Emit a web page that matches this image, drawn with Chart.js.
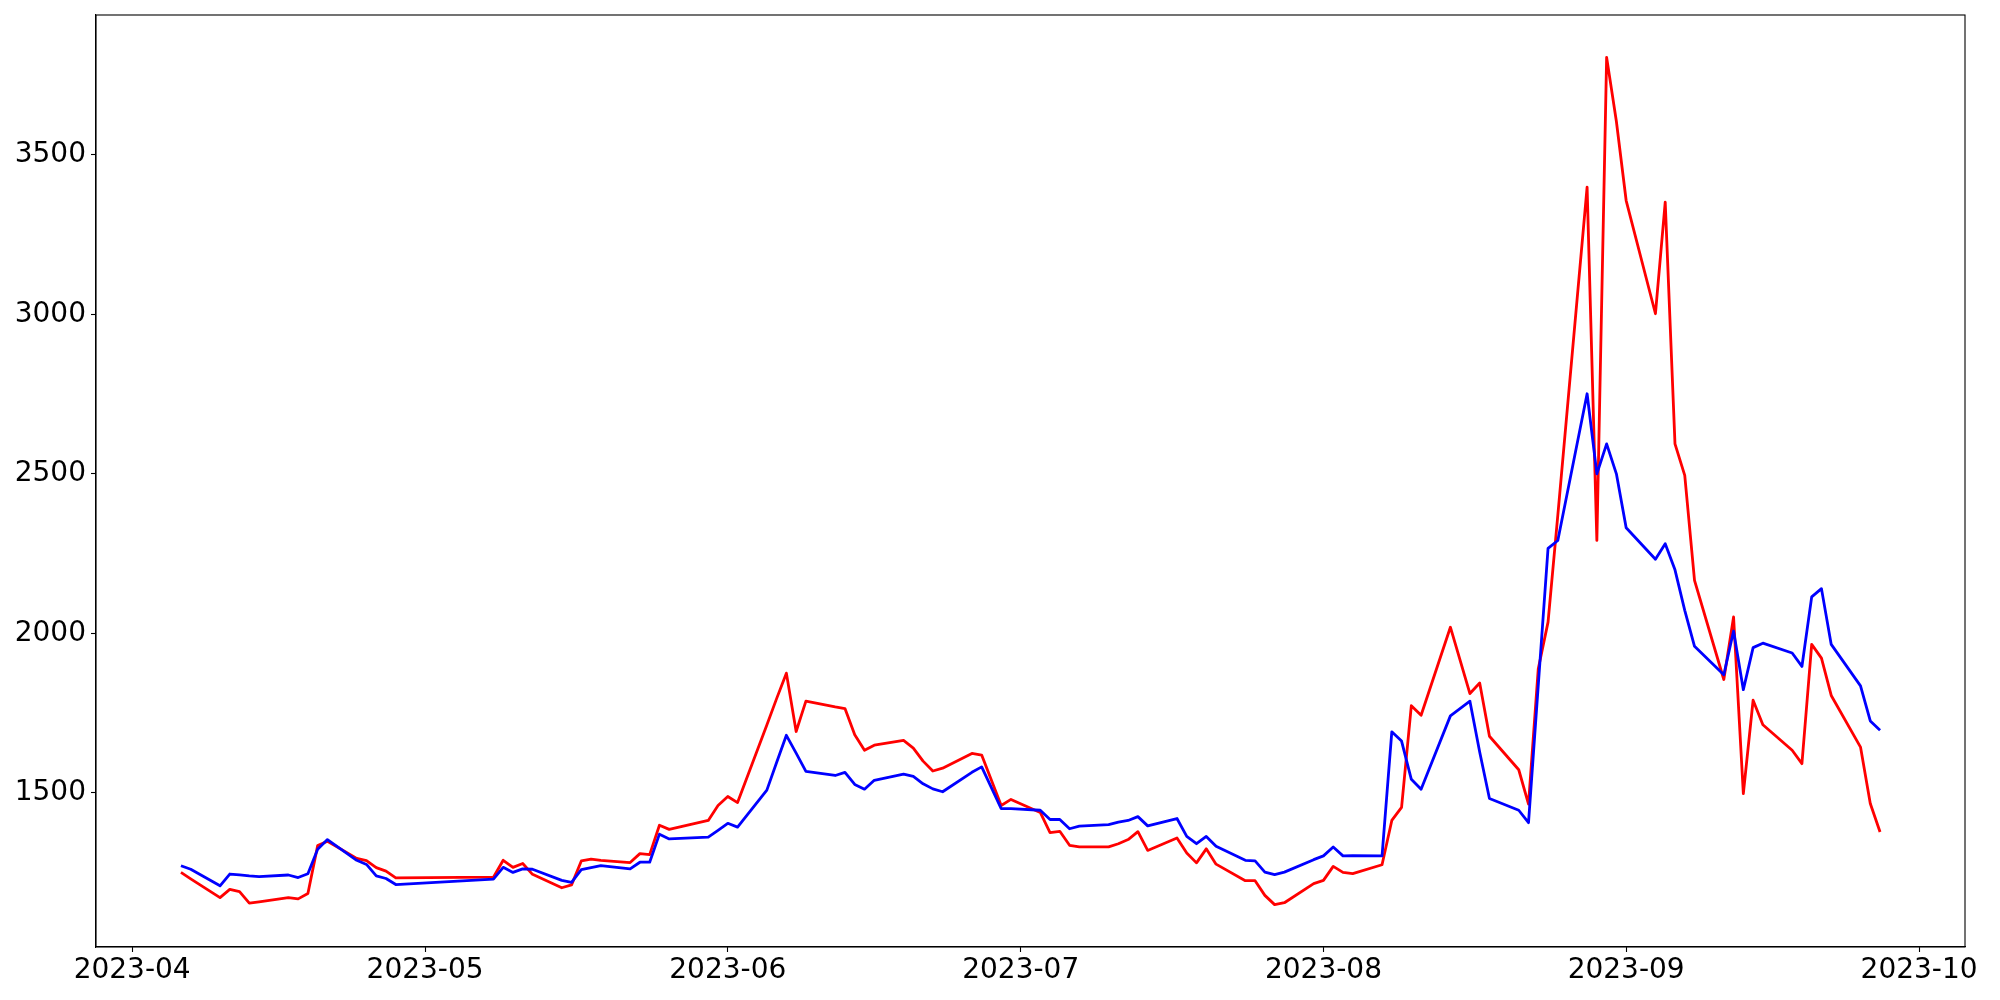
<!DOCTYPE html>
<html>
<head>
<meta charset="utf-8">
<script src="https://cdn.jsdelivr.net/npm/chart.js@4.4.0/dist/chart.umd.min.js"></script>
<style>
  html, body { margin: 0; padding: 0; background: #fff; }
  canvas { display: block; }
</style>
</head>
<body>
<canvas id="canvas" width="2000" height="1000"></canvas>
<script>
const dates = [
  '2023-04-06', '2023-04-07', '2023-04-10', '2023-04-11', '2023-04-12', '2023-04-13', '2023-04-14',
  '2023-04-17', '2023-04-18', '2023-04-19', '2023-04-20', '2023-04-21', '2023-04-24', '2023-04-25',
  '2023-04-26', '2023-04-27', '2023-04-28', '2023-05-08', '2023-05-09', '2023-05-10', '2023-05-11',
  '2023-05-12', '2023-05-15', '2023-05-16', '2023-05-17', '2023-05-18', '2023-05-19', '2023-05-22',
  '2023-05-23', '2023-05-24', '2023-05-25', '2023-05-26', '2023-05-30', '2023-05-31', '2023-06-01',
  '2023-06-02', '2023-06-05', '2023-06-06', '2023-06-07', '2023-06-08', '2023-06-09', '2023-06-12',
  '2023-06-13', '2023-06-14', '2023-06-15', '2023-06-16', '2023-06-19', '2023-06-20', '2023-06-21',
  '2023-06-22', '2023-06-23', '2023-06-26', '2023-06-27', '2023-06-29', '2023-06-30', '2023-07-03',
  '2023-07-04', '2023-07-05', '2023-07-06', '2023-07-07', '2023-07-10', '2023-07-11', '2023-07-12',
  '2023-07-13', '2023-07-14', '2023-07-17', '2023-07-18', '2023-07-19', '2023-07-20', '2023-07-21',
  '2023-07-24', '2023-07-25', '2023-07-26', '2023-07-27', '2023-07-28', '2023-07-31', '2023-08-01',
  '2023-08-02', '2023-08-03', '2023-08-04', '2023-08-07', '2023-08-08', '2023-08-09', '2023-08-10',
  '2023-08-11', '2023-08-14', '2023-08-16', '2023-08-17', '2023-08-18', '2023-08-21', '2023-08-22',
  '2023-08-23', '2023-08-24', '2023-08-25', '2023-08-28', '2023-08-29', '2023-08-30', '2023-08-31',
  '2023-09-01', '2023-09-04', '2023-09-05', '2023-09-06', '2023-09-07', '2023-09-08', '2023-09-11',
  '2023-09-12', '2023-09-13', '2023-09-14', '2023-09-15', '2023-09-18', '2023-09-19', '2023-09-20',
  '2023-09-21', '2023-09-22', '2023-09-25', '2023-09-26', '2023-09-27'
]

const redValues = [
  1250, 1230, 1171, 1197, 1190, 1154, 1158,
  1171, 1167, 1184, 1334, 1348, 1294, 1287,
  1265, 1254, 1233, 1235, 1288, 1266, 1278,
  1244, 1202, 1211, 1286, 1292, 1288, 1281,
  1309, 1306, 1398, 1385, 1413, 1460, 1488,
  1469, 1712, 1795, 1875, 1692, 1787, 1769,
  1764, 1682, 1633, 1649, 1664, 1640, 1599,
  1568, 1577, 1623, 1618, 1460, 1479, 1438,
  1375, 1379, 1335, 1330, 1330, 1340, 1353,
  1378, 1319, 1358, 1311, 1280, 1324, 1276,
  1224, 1224, 1178, 1149, 1155, 1215, 1225,
  1269, 1250, 1246, 1274, 1413, 1454, 1773,
  1743, 2019, 1811, 1844, 1677, 1572, 1464,
  1889, 2035, 2370, 3399, 2291, 3806, 3605,
  3357, 3002, 3352, 2594, 2495, 2166, 1855,
  2051, 1497, 1790, 1713, 1633, 1591, 1965,
  1922, 1805, 1643, 1466, 1377
]

const blueValues = [
  1271, 1260, 1208, 1245, 1242, 1239, 1237,
  1242, 1234, 1246, 1323, 1353, 1288, 1275,
  1239, 1231, 1212, 1229, 1266, 1250, 1261,
  1260, 1225, 1219, 1259, 1265, 1271, 1261,
  1282, 1282, 1370, 1355, 1361, 1382, 1404,
  1392, 1508, 1595, 1680, 1624, 1567, 1554,
  1564, 1526, 1511, 1539, 1558, 1551, 1528,
  1512, 1503, 1564, 1581, 1450, 1450, 1445,
  1416, 1416, 1387, 1395, 1400, 1408, 1413,
  1425, 1396, 1419, 1363, 1340, 1363, 1332,
  1288, 1286, 1251, 1243, 1251, 1290, 1302,
  1330, 1302, 1303, 1302, 1691, 1662, 1542,
  1511, 1741, 1787, 1628, 1482, 1445, 1406,
  1837, 2266, 2291, 2751, 2500, 2594, 2500,
  2331, 2232, 2281, 2199, 2072, 1959, 1870,
  2007, 1823, 1955, 1969, 1938, 1896, 2114,
  2140, 1965, 1835, 1725, 1696
]

const xTickLabels = ['2023-04', '2023-05', '2023-06', '2023-07', '2023-08', '2023-09', '2023-10']
const yTickValues = [1500, 2000, 2500, 3000, 3500]

// day number since epoch, so the x axis is linear in time
const toDay = (s) => {
  const p = s.split('-').map(Number)
  return Date.UTC(p[0], p[1] - 1, p[2] || 1) / 86400000
}

const xs = dates.map(toDay)
const xTicks = xTickLabels.map(toDay)

// matplotlib style 5% margins
const xMin = Math.min(...xs), xMax = Math.max(...xs)
const allY = redValues.concat(blueValues)
const yMin = Math.min(...allY), yMax = Math.max(...allY)
const xPad = (xMax - xMin) * 0.05
const yPad = (yMax - yMin) * 0.05

const toPoints = (vals) => vals.map((v, i) => ({ x: xs[i], y: v }))

const frame = {
  id: 'frame',
  afterDraw(chart) {
    const a = chart.chartArea, ctx = chart.ctx
    ctx.save()
    ctx.strokeStyle = '#000'
    ctx.lineWidth = 1.1
    ctx.strokeRect(a.left, a.top, a.right - a.left, a.bottom - a.top)
    ctx.restore()
  }
}

const font = { family: 'DejaVu Sans', size: 28 }

const config = {
  type: 'line',
  data: {
    datasets: [
      {
        label: 'blue',
        data: toPoints(blueValues),
        borderColor: '#0000ff',
        backgroundColor: '#0000ff',
        borderWidth: 2.8,
        pointRadius: 0,
        tension: 0,
        borderJoinStyle: 'round',
      },
      {
        label: 'red',
        data: toPoints(redValues),
        borderColor: '#ff0000',
        backgroundColor: '#ff0000',
        borderWidth: 2.8,
        pointRadius: 0,
        tension: 0,
        borderJoinStyle: 'round',
      },
    ],
  },
  options: {
    responsive: false,
    animation: false,
    layout: { padding: { left: 0, top: 15, right: 35, bottom: 0 } },
    plugins: { legend: { display: false }, tooltip: { enabled: false } },
    scales: {
      x: {
        type: 'linear',
        min: xMin - xPad,
        max: xMax + xPad,
        afterBuildTicks: (scale) => {
          scale.ticks = xTicks.map((v) => ({ value: v }))
        },
        afterFit: (scale) => {
          scale.height = 53
          scale.paddingLeft = 0
          scale.paddingRight = 0
        },
        ticks: {
          autoSkip: false,
          maxRotation: 0,
          color: '#000',
          font: font,
          padding: 2,
          callback: (value, index) => xTickLabels[index],
        },
        grid: {
          display: true,
          drawOnChartArea: false,
          drawTicks: true,
          tickLength: 5,
          tickColor: '#000',
          tickWidth: 1.1,
        },
        border: { display: true, color: '#000', width: 1.1 },
      },
      y: {
        type: 'linear',
        min: yMin - yPad,
        max: yMax + yPad,
        afterBuildTicks: (scale) => {
          scale.ticks = yTickValues.map((v) => ({ value: v }))
        },
        afterFit: (scale) => {
          scale.width = 96
          scale.paddingTop = 0
          scale.paddingBottom = 0
        },
        ticks: {
          color: '#000',
          font: font,
          padding: 5,
          callback: (value) => String(value),
        },
        grid: {
          display: true,
          drawOnChartArea: false,
          drawTicks: true,
          tickLength: 5,
          tickColor: '#000',
          tickWidth: 1.1,
        },
        border: { display: true, color: '#000', width: 1.1 },
      },
    },
  },
  plugins: [frame],
}

const canvas = document.getElementById('canvas')
const chart = new Chart(canvas, config)
</script>
</body>
</html>
